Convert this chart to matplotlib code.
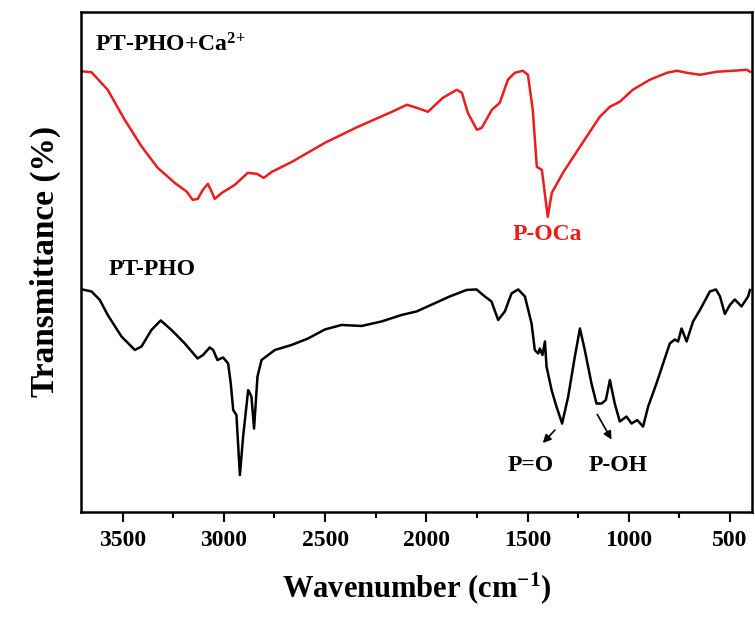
import numpy as np
import matplotlib
matplotlib.use("Agg")
from matplotlib import pyplot as plt
from matplotlib.ticker import MultipleLocator

# FTIR spectra (wavenumber in cm-1, transmittance in arb. units)
wn_ca = [3701, 3654, 3574, 3490, 3407, 3327, 3243, 3185, 3154, 3129, 3104, 3079, 3060, 3045,
         3010, 2946, 2882, 2837, 2803, 2763, 2664, 2501, 2338, 2170, 2096, 2047, 1992, 1918,
         1849, 1824, 1795, 1750, 1726, 1676, 1637, 1597, 1563, 1523, 1498, 1474, 1454, 1429,
         1400, 1380, 1325, 1241, 1143, 1093, 1044, 980, 896, 811, 762, 713, 649, 565, 486,
         416, 401]
t_ca = [88.1, 87.9, 84.4, 78.4, 73.1, 68.8, 65.8, 64.1, 62.4, 62.6, 64.4, 65.6, 64.0, 62.6,
        63.8, 65.4, 67.8, 67.6, 66.8, 68.0, 70.0, 73.8, 77.0, 80.0, 81.4, 80.8, 80.0, 82.8,
        84.4, 83.8, 79.8, 76.4, 76.8, 80.4, 81.8, 86.4, 87.8, 88.2, 87.4, 80.4, 69.0, 68.4,
        59.0, 63.8, 67.8, 73.0, 79.0, 81.0, 82.0, 84.4, 86.4, 87.8, 88.2, 87.8, 87.4, 88.0,
        88.2, 88.4, 88.0]

wn_pho = [3701, 3654, 3613, 3574, 3506, 3440, 3407, 3358, 3312, 3259, 3193, 3130, 3103, 3070,
          3053, 3032, 3004, 2979, 2966, 2954, 2938, 2921, 2905, 2880, 2864, 2851, 2834, 2814,
          2748, 2666, 2584, 2501, 2419, 2320, 2221, 2122, 2048, 1966, 1884, 1801, 1752, 1711,
          1678, 1645, 1612, 1579, 1546, 1513, 1480, 1464, 1447, 1439, 1426, 1414, 1406, 1381,
          1357, 1329, 1299, 1266, 1241, 1217, 1184, 1159, 1134, 1113, 1093, 1069, 1044, 1011,
          986, 958, 929, 904, 863, 797, 772, 756, 739, 714, 682, 648, 599, 569, 549, 525, 500,
          476, 443, 410, 401]
t_pho = [44.5, 44.1, 42.4, 39.4, 35.1, 32.4, 33.1, 36.4, 38.3, 36.4, 33.7, 30.7, 31.4, 32.9,
         32.4, 30.4, 30.9, 29.7, 25.7, 20.4, 19.4, 7.4, 15.1, 24.4, 23.1, 16.7, 27.1, 30.4,
         32.4, 33.4, 34.7, 36.5, 37.4, 37.2, 38.1, 39.4, 40.1, 41.6, 43.1, 44.4, 44.5, 43.1,
         42.1, 38.4, 40.1, 43.7, 44.5, 43.1, 37.7, 32.4, 31.7, 32.7, 31.4, 34.1, 29.1, 24.4,
         21.1, 17.7, 23.1, 31.1, 36.7, 32.4, 25.7, 21.7, 21.7, 22.4, 26.4, 21.7, 18.1, 19.1,
         17.7, 18.4, 17.1, 21.1, 25.7, 33.7, 34.5, 34.1, 36.7, 34.1, 38.1, 40.4, 44.1, 44.5,
         43.1, 39.6, 41.4, 42.5, 41.1, 43.1, 44.4]

plt.rcParams['font.family'] = 'Liberation Serif'
plt.rcParams['font.weight'] = 'bold'
plt.rcParams['mathtext.fontset'] = 'custom'
plt.rcParams['mathtext.bf'] = 'Liberation Serif:bold'
plt.rcParams['mathtext.rm'] = 'Liberation Serif:bold'
plt.rcParams['mathtext.default'] = 'bf'

fig = plt.figure(figsize=(7.55, 6.17), dpi=100)
ax = fig.add_axes([0.107, 0.170, 0.889, 0.811])

ax.plot(wn_ca, t_ca, color='#ee1c1c', lw=1.8, solid_joinstyle='round')
ax.plot(wn_pho, t_pho, color='black', lw=1.8, solid_joinstyle='round')

ax.set_xlim(3707, 391)
ax.set_ylim(0, 100)
ax.set_yticks([])
ax.xaxis.set_major_locator(MultipleLocator(500))
ax.xaxis.set_minor_locator(MultipleLocator(250))
ax.tick_params(axis='x', which='major', direction='out', length=7, width=1.5,
               labelsize=17, pad=6)
ax.tick_params(axis='x', which='minor', direction='out', length=4, width=1.5)
for lab in ax.get_xticklabels():
    lab.set_fontweight('bold')
for s in ax.spines.values():
    s.set_linewidth(1.8)

ax.set_xlabel(r'Wavenumber (cm$^{{-}1}$)', fontsize=22, fontweight='bold', labelpad=14)
ax.set_ylabel('Transmittance (%)', fontsize=24, fontweight='bold', labelpad=14)

ax.text(3638, 93.4, r'PT-PHO+Ca$^{2{+}}$', fontsize=17, fontweight='bold', va='center', ha='left')
ax.text(3569, 48.4, 'PT-PHO', fontsize=17, fontweight='bold', va='center', ha='left')
ax.text(1400, 55.4, 'P-OCa', fontsize=17, fontweight='bold', color='#ee1c1c',
        va='center', ha='center')
ax.text(1484, 9.4, 'P=O', fontsize=17, fontweight='bold', va='center', ha='center')
ax.text(1054, 9.4, 'P-OH', fontsize=17, fontweight='bold', va='center', ha='center')

ax.annotate('', xy=(1434, 13.4), xytext=(1355, 16.8),
            arrowprops=dict(arrowstyle='-|>', color='black', lw=1.2, mutation_scale=12))
ax.annotate('', xy=(1078, 14.0), xytext=(1162, 20.0),
            arrowprops=dict(arrowstyle='-|>', color='black', lw=1.2, mutation_scale=12))

fig.savefig('out.png', dpi=100)
